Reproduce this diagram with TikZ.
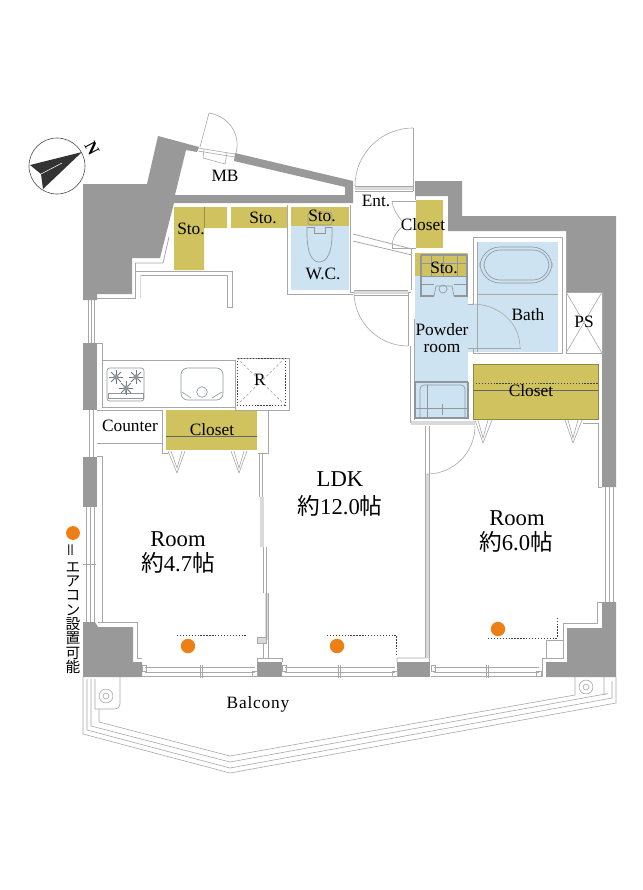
\documentclass[tikz,border=0pt]{standalone}
\usepackage{fontspec}
\usepackage{graphicx}
\setmainfont{Liberation Serif}
\newfontfamily\cjk{Noto Sans CJK JP}
\usetikzlibrary{calc}
\definecolor{wallc}{HTML}{999999}
\definecolor{yelc}{HTML}{D0C25E}
\definecolor{bluec}{HTML}{CDE3F1}
\definecolor{orgc}{HTML}{EE7F17}
\definecolor{linec}{HTML}{A8A8A8}
\definecolor{bandc}{HTML}{DADADA}
\definecolor{fixc}{HTML}{8F979D}
\newcommand\qarc[3]{\draw[ln] (#2) .. controls ($(#2)+0.5523*(#3)-0.5523*(#1)$) and ($(#3)+0.5523*(#2)-0.5523*(#1)$) .. (#3);}
\tikzset{
 ln/.style={draw=linec,line width=0.45pt},
 wl/.style={draw=linec,line width=0.6pt},
 band/.style={draw=bandc,line width=2.6pt},
 wallf/.style={fill=wallc,draw=none},
 yel/.style={fill=yelc,draw=none},
 blu/.style={fill=bluec,draw=none},
 fix/.style={draw=fixc,line width=0.5pt},
 dk/.style={draw=black!75,line width=0.5pt,dash pattern=on 1pt off 1.2pt},
 lbl/.style={inner sep=0pt,font=\fontsize{13}{15}\selectfont,align=center,text=black},
 big/.style={inner sep=0pt,font=\fontsize{17}{20}\selectfont,align=center,text=black},
 burner/.style={draw=fixc!80!black,line width=0.7pt},
}
\newcommand\burn[2]{\foreach \a in {0,45,90,135}{\draw[burner] ($(#1,#2)+(\a:5.2pt)$) -- ($(#1,#2)+(\a+180:5.2pt)$);}\fill[fixc] (#1,#2) circle[radius=2pt];}
\begin{document}
\begin{tikzpicture}[x=0.75pt,y=-0.75pt]
\useasboundingbox (0,0) rectangle (643,890);
\fill[white] (0,0) rectangle (643,890);
% colour fills
\fill[yel] (174,207)--(227,207)--(227,228)--(204,228)--(204,270)--(174,270)--cycle;
\fill[yel] (231,207) rectangle (287,228);
\fill[yel] (291,207) rectangle (349,226);
\fill[blu] (291,226) rectangle (349,290);
\fill[yel] (416,200) rectangle (443,248);
\fill[blu] (415,253) rectangle (468,418);
\fill[blu] (468,304) rectangle (477,352);
\fill[blu] (477,242) rectangle (558,352);
\fill[yel] (415,253) rectangle (468,276);
\fill[yel] (473,364) rectangle (598,419);
\fill[yel] (166,410) rectangle (257,450);
\draw[draw=yelc!75!black,line width=0.4pt] (204,207)--(204,228);
% walls
\fill[wallf] (83,184)--(147,184)--(158,136)--(199,147)--(197,152)--(186,150)--(175,195)--(345,195)--(345,187)--(234,161)--(235,153)--(353,181)--(353,203)--(174,203)--(160,258)--(132,258)--(132,294)--(97,294)--(97,300)--(83,300)--cycle;
\fill[wallf] (415,181)--(462,181)--(462,216)--(616,216)--(616,487)--(602,487)--(602,292)--(566,292)--(566,231)--(448,231)--(448,196)--(415,196)--cycle;
\fill[wallf] (83,343) rectangle (97,410);
\fill[wallf] (83,457) rectangle (97,507);
\fill[wallf] (83,622)--(95,622)--(98,627)--(133,627)--(133,662)--(142,662)--(142,677)--(83,677)--cycle;
\fill[wallf] (257,662) rectangle (282,677);
\fill[wallf] (397,662) rectangle (430,677);
\fill[wallf] (602,602)--(616,602)--(616,677)--(546,677)--(546,662)--(567,662)--(567,628)--(602,628)--cycle;
% band-like sills
\draw[band] (355,188.5)--(413,188.5);
\draw[band] (354,292)--(408,292);
\draw[band] (411,423)--(475,423);
\draw[band] (427,474)--(427,658);
\draw[band] (262,497)--(262,547);
\draw[band] (267,593)--(267,640);
\fill[bandc] (257,637) rectangle (266,643);
% compass
\node (compass) [circle,draw=black!70,line width=0.45pt,minimum size=42pt,inner sep=0pt] at (57,166) {};
\fill[black!80] (82,152)--(30,165)--(41,174)--(43,189)--cycle;
\draw[white,line width=0.4pt] (41,174)--(62,163);
\node (north) [inner sep=0pt,font=\fontsize{13}{14}\selectfont\bfseries,rotate=-62] at (92,148) {N};
% MB door
\draw[ln] (200,147)--(209,113);
\qarc{200,147}{209,113}{236,153}
\draw[ln] (204,149)--(203,158)--(225,164)--(227,153);
\draw[ln] (198,151)--(235,157) (198,148)--(235,154);
% kitchen / north walls
\draw[wl] (135,263)--(163,263)--(169,237);
\draw[wl] (135,271)--(174,271);
\draw[wl] (135,263)--(135,298)--(97,298);
\draw[wl] (135,271)--(232,271)--(232,307)--(227,307)--(227,275)--(140,275);
\draw[ln,draw=bandc] (140,275)--(140,298);
\draw[wl] (287,228)--(287,294)--(353,294);
\draw[wl] (350,205)--(350,292)--(354,292);
\draw[wl] (287,205)--(287,228);
% entrance door
\draw[wl] (413,128)--(413,191);
\qarc{413,186}{413,128}{355,186}
\draw[wl] (355,186)--(413,186) (355,191)--(413,191);
\draw[wl] (353,234)--(412,249) (353,241)--(412,255);
\draw[wl] (415,196)--(415,200);
% closet bifold
\draw[ln] (392,201)--(416,201) (392,248)--(416,248) (392,244)--(392,248);
\draw[ln] (392,201) .. controls (393,209) and (397,215) .. (402,221);
\draw[ln] (392,244) .. controls (393,237) and (397,231) .. (402,227);
% powder door
\draw[wl] (408,292)--(408,346);
\qarc{408,292}{354,292}{408,346}
\draw[wl] (411,249)--(411,290) (408,292)--(411,292);
\draw[wl] (410,346)--(410,423) (414,319)--(414,420);
\draw[wl] (354,290)--(408,290) (354,295)--(408,295);
% bath
\draw[wl] (473,237)--(562,237)--(562,353)--(473,353)--(473,348);
\draw[wl] (473,237)--(473,304)--(468,304);
\draw[wl] (566,231)--(566,292);
\draw[ln] (477,294)--(558,294);
\draw[fix,rounded corners=15pt] (480,247) rectangle (552,283);
\draw[fix,rounded corners=12pt] (484,250) rectangle (549,280);
\draw[ln] (472,304) .. controls (498,304) and (520,322) .. (520,348);
\draw[ln] (468,348)--(521,348) (477,242)--(477,352);
% PS
\draw[wl] (566,292) rectangle (602,353);
\draw[ln] (566,292)--(602,353) (602,292)--(566,353);
% washbasin in powder room
\draw[fix,line width=0.9pt] (421,255)--(467,255) (421,255)--(421,296)--(434,296) (467,255)--(467,296)--(454,296);
\draw[fix] (421,263)--(467,263) (421,276)--(467,276) (421,284)--(434,284) (454,284)--(467,284);
\draw[fix] (431,255)--(431,276) (443,255)--(443,276) (457,255)--(457,276);
\draw[fix] (434,296)--(436,286)--(452,286)--(454,296);
\draw[fix] (443,289) circle[radius=3pt];
% washing machine tray
\draw[fix,line width=0.8pt] (415,382)--(468,382) (415,382)--(415,418)--(468,418)--(468,382);
\draw[fix,rounded corners=3pt] (420,418)--(420,385)--(465,385)--(465,418);
\draw[fix] (427,385)--(427,418) (415,408)--(468,408);
\draw[fix] (442,404)--(442,415);
% closet right
\draw[dk] (473,383)--(598,383);
\draw[ln,draw=black!60] (473,390)--(598,390);
\draw[ln,draw=yelc!70!black] (473,364) rectangle (598,419);
\draw[ln] (475,420)--(483,443)--(492,420) (478,420)--(483,438)--(488,420);
\draw[ln] (565,420)--(573,443)--(582,420) (568,420)--(573,438)--(578,420);
\draw[wl] (583,423)--(598,423)--(598,487)--(602,487);
\draw[wl] (605,487)--(605,602) (609,487)--(609,602) (613,487)--(613,602);
% door to right room
\draw[wl] (425,426)--(425,474) (429,426)--(429,474);
\draw[wl] (425,474)--(425,658) (429,474)--(429,658);
\qarc{427,426}{475,426}{427,474}
% kitchen
\draw[wl] (102,360) rectangle (235,407);
\draw[wl] (235,407)--(235,410)--(289,410)--(289,358)--(237,358);
\draw[dk] (237,358) rectangle (285,405);
\draw[ln,dash pattern=on 2pt off 1.5pt] (237,358)--(285,405) (285,358)--(237,405);
\draw[fix,rounded corners=2pt] (107,368) rectangle (144,401);
\draw[fix] (108,393) rectangle (143,398);
\draw[fix] (125.5,393)--(125.5,388);
\burn{116}{377}\burn{136}{377}\burn{126}{388}
\draw[fix,rounded corners=5pt] (181,368) rectangle (223,400);
\draw[fix] (202,392) circle[radius=4pt];
\draw[fix] (182,392)--(191,398) (222,392)--(212,398);
% closet kitchen
\draw[wl] (97,410)--(162,410)--(162,453)--(168,453);
\draw[wl] (97,443)--(162,443);
\draw[ln,draw=black!60] (166,436)--(257,436);
\draw[wl] (268,410)--(268,453)--(258,453);
\draw[ln] (168,451)--(177,473)--(185,451) (171,451)--(177,468)--(182,451);
\draw[ln] (231,451)--(239,473)--(247,451) (234,451)--(239,468)--(244,451);
% partition
\draw[wl] (259,453)--(259,497) (262,453)--(262,497);
\draw[wl] (263,547)--(263,593) (266,547)--(266,593);
\draw[wl] (266,593)--(266,637) (268,593)--(268,658);
\draw[wl] (257,637) rectangle (266,643);
\draw[wl] (263,643)--(263,658) (257,658)--(282,658) (257,658)--(257,662) (282,658)--(282,662);
\draw[wl] (425,658)--(397,658)--(397,662) (429,658)--(430,662);
% left windows
\draw[wl] (88,300)--(88,343) (91,300)--(91,343) (94,300)--(94,343);
\draw[wl] (89,410)--(89,457) (93,410)--(93,457);
\draw[wl] (86,507)--(86,622) (90,507)--(90,622) (94,507)--(94,622);
\draw[wl] (83,564)--(96,564);
\draw[wl] (97,343)--(102,343)--(102,360);
\draw[wl] (97,456)--(102,456)--(102,622)--(98,622);
\draw[wl] (98,622)--(137,622)--(137,658)--(142,658);
% south windows
\foreach \xa/\xb/\xc in {145/255/200,285/395/338,434/539/486}{
 \draw[wl] (\xa,667)--(\xb,667) (\xa,672)--(\xb,672) (\xa-3,676.5)--(\xb+2,676.5);
 \draw[wl] (\xc,665)--(\xc,678);
 \draw[wl] (\xc+2,665)--(\xc+2,678);
 \draw[ln] (\xa-3,665) rectangle (\xa+1,671);
 \draw[ln] (\xb-3,671) rectangle (\xb+2,676);
}
% right corner outline
\draw[wl] (602,602)--(597,602)--(597,623)--(563,623)--(563,658)--(542,658)--(542,677);
\draw[wl] (546,640) rectangle (563,658);
% balcony
\draw[ln] (83,677)--(83,734)--(230,773)--(616,703)--(616,677);
\draw[ln] (87,679)--(87,730)--(230,768)--(612,698)--(612,681);
\draw[ln] (91,679)--(91,726)--(230,762)--(608,693.5)--(604,694.5)--(604,677);
\draw[ln] (99,709)--(99,722)--(230,756)--(575,695)--(575,677);
\draw[ln] (95,679)--(95,709)--(115,709) .. controls (118,709) and (120,707) .. (120,704)--(120,677);
\draw[ln] (106,696) circle[radius=5.2pt] (106,696) circle[radius=2.2pt];
\draw[ln] (586,687) circle[radius=5.2pt] (586,687) circle[radius=2.2pt];
% AC dots and outlines
\fill[orgc] (73,533) circle[radius=5.2pt];
\fill[orgc] (188,646) circle[radius=5.4pt];
\fill[orgc] (337,646) circle[radius=5.4pt];
\fill[orgc] (498,629) circle[radius=5.4pt];
\draw[dk] (177,635)--(247,635);
\draw[dk] (327,635)--(396,635)--(396,655);
\draw[dk] (488,638)--(557,638)--(557,618);
% toilet
\draw[fix,rounded corners=2pt] (308,212) rectangle (332,225);
\draw[fix] (307,227) .. controls (306,255) and (313,262) .. (319,262) .. controls (326,262) and (333,255) .. (332,227);
\draw[fix] (307,227)--(314,227)--(314,233)--(325,233)--(325,227)--(332,227);
% labels
\node (mb) [lbl] at (225,176) {MB};
\node (ent) [lbl] at (376,201) {Ent.};
\node (clo1) [lbl] at (423,225) {Closet};
\node (sto1) [lbl] at (191,229) {Sto.};
\node (sto2) [lbl] at (263,218) {Sto.};
\node (sto3) [lbl] at (322,216) {Sto.};
\node (wc) [lbl] at (323,274) {W.C.};
\node (sto4) [lbl] at (444,268) {Sto.};
\node (powder) [lbl] at (442,338) {Powder\\[-2pt]room};
\node (bath) [lbl] at (528,315) {Bath};
\node (ps) [lbl] at (584,322) {PS};
\node (clo2) [lbl] at (531,391) {Closet};
\node (fridge) [lbl] at (260,380) {R};
\node (counter) [lbl] at (130,426) {Counter};
\node (clo3) [lbl] at (212,430) {Closet};
\node (ldk) [big] at (340,479) {LDK};
\node (ldka) [big] at (340,506) {{\cjk 約}12.0{\cjk 帖}};
\node (rooma) [big] at (178,539) {Room};
\node (roomaa) [big] at (178,563) {{\cjk 約}4.7{\cjk 帖}};
\node (roomb) [big] at (517,518) {Room};
\node (roombb) [big] at (516,542) {{\cjk 約}6.0{\cjk 帖}};
\node (balcony) [lbl] at (258,704) {B\kern.6pt a\kern.6pt l\kern.6pt c\kern.6pt o\kern.6pt n\kern.6pt y};
\node (legend) [inner sep=0pt,align=center,anchor=north,font=\cjk\fontsize{11}{10.75}\selectfont] at (73,543) {\rotatebox{90}{＝}\\エ\\ア\\コ\\ン\\設\\置\\可\\能};
\end{tikzpicture}
\end{document}
